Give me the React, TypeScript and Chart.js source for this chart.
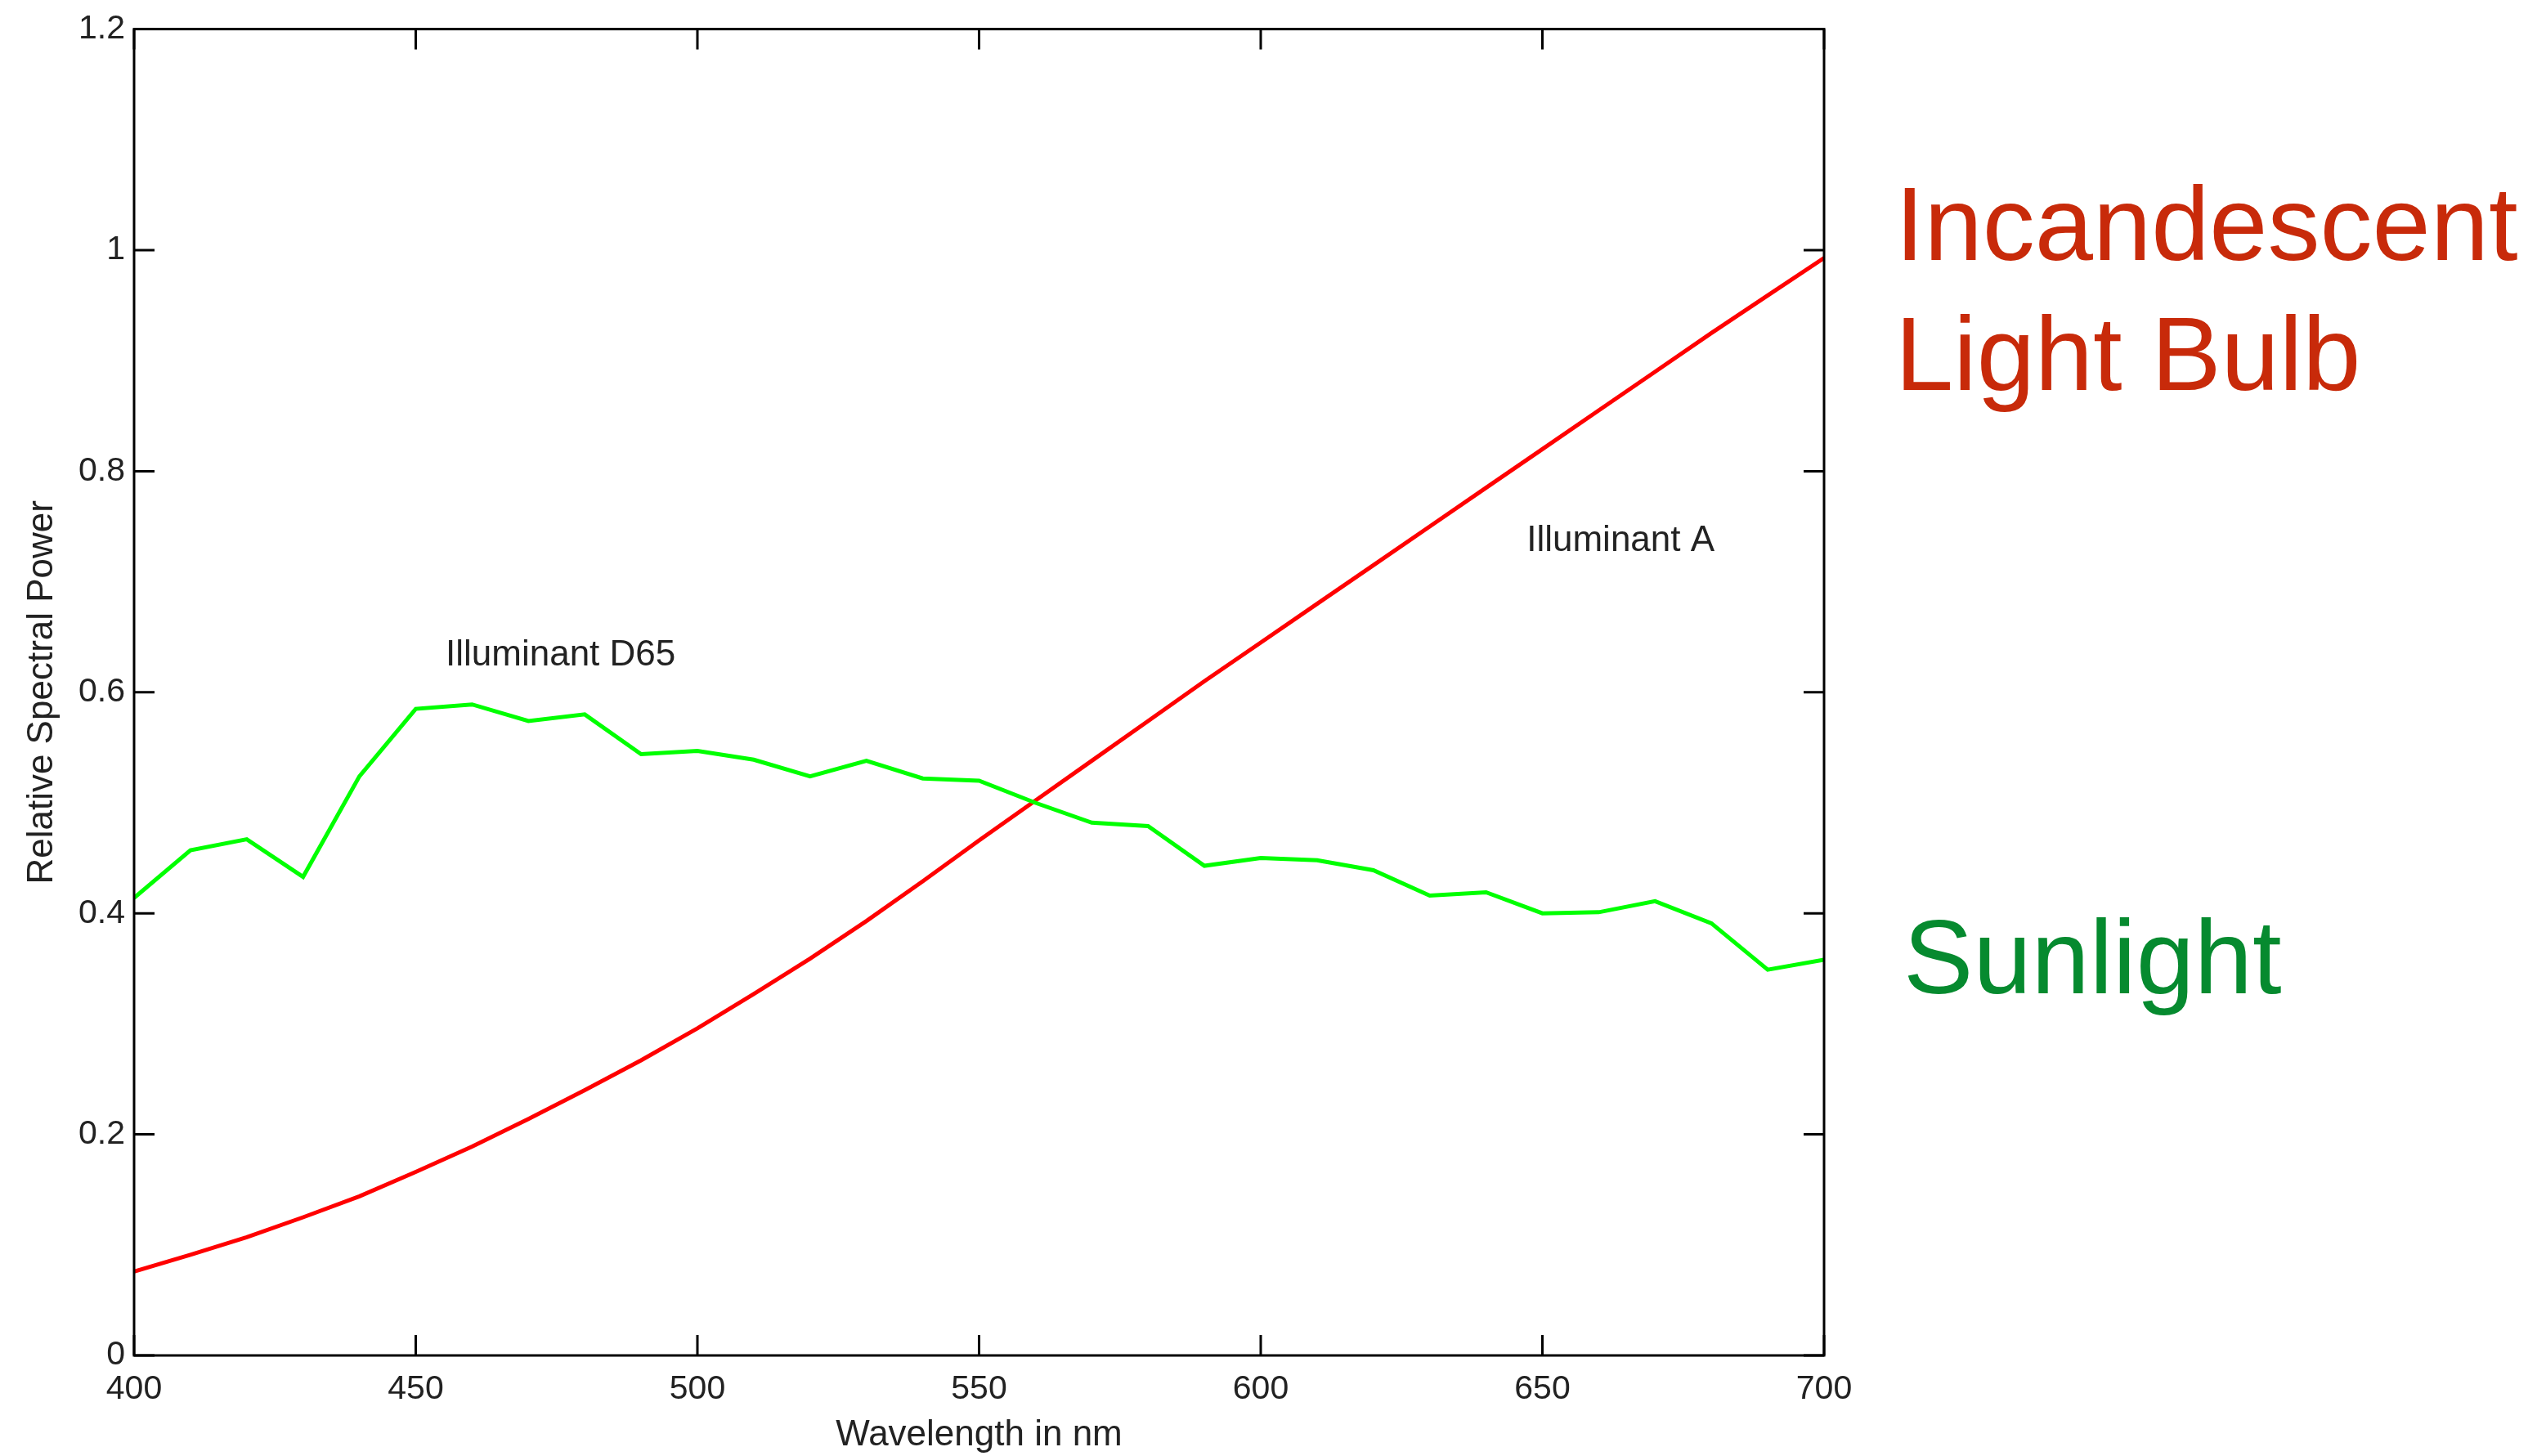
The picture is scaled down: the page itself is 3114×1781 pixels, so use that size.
import React, { useEffect, useRef } from "react";
import { Chart, registerables } from "chart.js";

Chart.register(...registerables);

const wavelengths = [
  400, 410, 420, 430, 440, 450, 460, 470, 480, 490, 500, 510, 520, 530, 540, 550,
  560, 570, 580, 590, 600, 610, 620, 630, 640, 650, 660, 670, 680, 690, 700,
];
const sunlightD65 = [
  0.414, 0.457, 0.467, 0.433, 0.524, 0.585, 0.589, 0.574, 0.580, 0.544, 0.547,
  0.539, 0.524, 0.538, 0.522, 0.520, 0.500, 0.482, 0.479, 0.443, 0.450, 0.448,
  0.439, 0.416, 0.419, 0.400, 0.401, 0.411, 0.391, 0.349, 0.358,
];
const incandescentA = [
  0.076, 0.091, 0.107, 0.125, 0.144, 0.166, 0.189, 0.214, 0.240, 0.267, 0.296,
  0.327, 0.359, 0.393, 0.429, 0.466, 0.502, 0.538, 0.574, 0.610, 0.645, 0.680,
  0.715, 0.750, 0.785, 0.820, 0.855, 0.890, 0.925, 0.959, 0.993,
];
const xTicks = [400, 450, 500, 550, 600, 650, 700];
const yTicks = [0, 0.2, 0.4, 0.6, 0.8, 1, 1.2];
const yTickLabels = ["0", "0.2", "0.4", "0.6", "0.8", "1", "1.2"];
const xTitle = "Wavelength in nm";
const yTitle = "Relative Spectral Power";
const annotations = [
  { text: "Illuminant D65", x: 455.3, y: 0.633 },
  { text: "Illuminant A", x: 647.2, y: 0.737 },
];
const bigLabels = [
  { lines: ["Incandescent", "Light Bulb"], color: "#C82A0A", x: 2318, y: 318 },
  { lines: ["Sunlight"], color: "#068A2F", x: 2328, y: 1215 },
];

const W = 3114;
const H = 1781;
const FONT = "'Liberation Sans', Arial, Helvetica, sans-serif";

const framePlugin = {
  id: "frame",
  afterDatasetsDraw(chart: any) {
    const { ctx, chartArea } = chart;
    const xs = chart.scales.x;
    const ys = chart.scales.y;
    const { left, right, top, bottom } = chartArea;
    ctx.save();
    ctx.strokeStyle = "#000";
    ctx.lineWidth = 3;
    ctx.strokeRect(left, top, right - left, bottom - top);
    const tl = 25;
    ctx.beginPath();
    xTicks.forEach((v) => {
      const px = xs.getPixelForValue(v);
      ctx.moveTo(px, bottom);
      ctx.lineTo(px, bottom - tl);
      ctx.moveTo(px, top);
      ctx.lineTo(px, top + tl);
    });
    yTicks.forEach((v) => {
      const py = ys.getPixelForValue(v);
      ctx.moveTo(left, py);
      ctx.lineTo(left + tl, py);
      ctx.moveTo(right, py);
      ctx.lineTo(right - tl, py);
    });
    ctx.stroke();

    // annotations
    ctx.fillStyle = "#222";
    ctx.font = `44px ${FONT}`;
    ctx.textAlign = "left";
    ctx.textBaseline = "middle";
    annotations.forEach((a) => {
      ctx.fillText(a.text, xs.getPixelForValue(a.x), ys.getPixelForValue(a.y));
    });

    // axis titles
    ctx.textAlign = "center";
    ctx.fillText(xTitle, (left + right) / 2, 1756);
    ctx.save();
    ctx.translate(52, (top + bottom) / 2);
    ctx.rotate(-Math.PI / 2);
    ctx.fillText(yTitle, 0, 0);
    ctx.restore();

    // big labels
    ctx.textAlign = "left";
    ctx.textBaseline = "alphabetic";
    ctx.font = `128px ${FONT}`;
    bigLabels.forEach((b) => {
      ctx.fillStyle = b.color;
      b.lines.forEach((ln, i) => ctx.fillText(ln, b.x, b.y + i * 159));
    });
    ctx.restore();
  },
};

export default function App() {
  const ref = useRef<HTMLCanvasElement | null>(null);
  useEffect(() => {
    if (!ref.current) return;
    const chart = new Chart(ref.current, {
      type: "line",
      data: {
        datasets: [
          {
            label: "Illuminant D65",
            data: wavelengths.map((w, i) => ({ x: w, y: sunlightD65[i] })),
            borderColor: "#00FF00",
            borderWidth: 5,
            pointRadius: 0,
            tension: 0,
          },
          {
            label: "Illuminant A",
            data: wavelengths.map((w, i) => ({ x: w, y: incandescentA[i] })),
            borderColor: "#FF0000",
            borderWidth: 5,
            pointRadius: 0,
            tension: 0,
          },
        ],
      },
      options: {
        animation: false,
        responsive: false,
        devicePixelRatio: 1,
        layout: { padding: { left: 0, right: W - 2231, top: 32, bottom: 0 } },
        plugins: { legend: { display: false }, tooltip: { enabled: false } },
        scales: {
          x: {
            type: "linear",
            min: 400,
            max: 700,
            afterBuildTicks: (s: any) => {
              s.ticks = xTicks.map((v) => ({ value: v }));
            },
            afterFit: (s: any) => {
              s.height = H - 1658;
            },
            grid: { display: false, drawTicks: false },
            border: { display: false },
            ticks: {
              color: "#222",
              font: { size: 41, family: FONT },
              padding: 17,
              maxRotation: 0,
              autoSkip: false,
            },
          },
          y: {
            type: "linear",
            min: 0,
            max: 1.2,
            afterBuildTicks: (s: any) => {
              s.ticks = yTicks.map((v) => ({ value: v }));
            },
            afterFit: (s: any) => {
              s.width = 164;
            },
            grid: { display: false, drawTicks: false },
            border: { display: false },
            ticks: {
              color: "#222",
              font: { size: 41, family: FONT },
              padding: 11,
              autoSkip: false,
              callback: (_v: any, i: number) => yTickLabels[i],
            },
          },
        },
      },
      plugins: [framePlugin],
    });
    return () => chart.destroy();
  }, []);
  return (
    <div style={{ position: "fixed", left: 0, top: 0, width: W, height: H, background: "#fff" }}>
      <canvas ref={ref} width={W} height={H} style={{ width: W, height: H, display: "block" }} />
    </div>
  );
}
